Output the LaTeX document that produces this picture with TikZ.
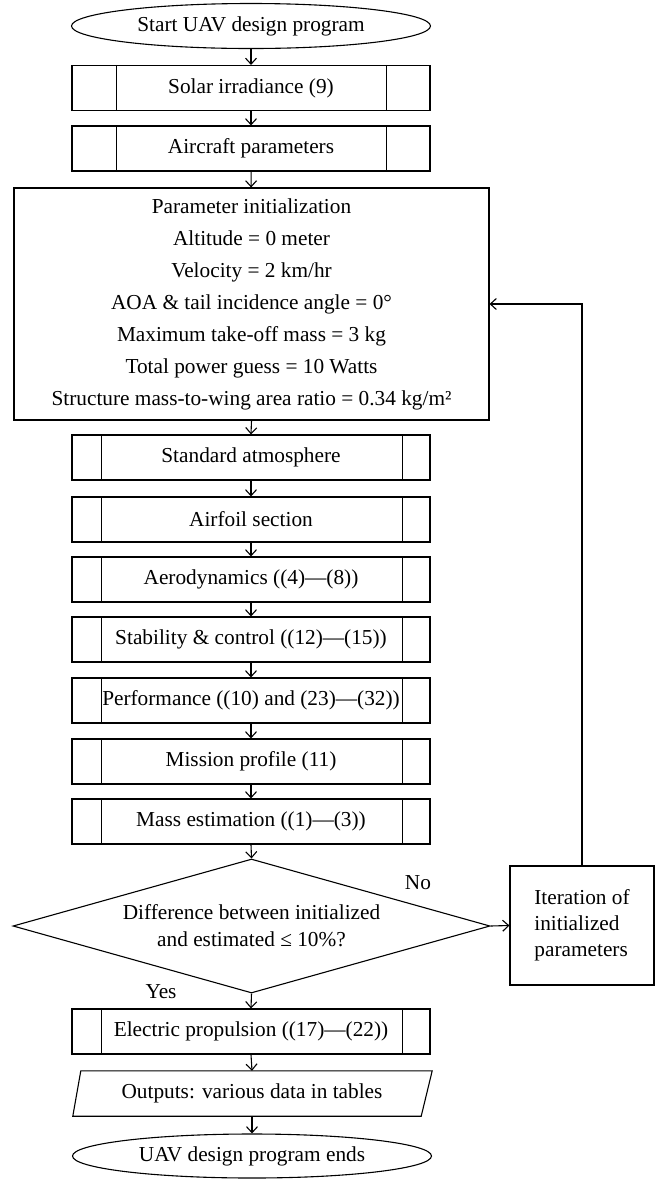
\documentclass[tikz,border=0pt]{standalone}
\usepackage{fontspec}
\setmainfont{Liberation Serif}
\usetikzlibrary{arrows.meta,shapes.geometric}
\begin{document}
\begin{tikzpicture}[x=1pt,y=-1pt,
  every node/.style={font=\fontsize{21.3}{26}\selectfont, inner sep=0pt},
  flowline/.style={line width=1.1pt, -{Straight Barb[length=6pt,width=11pt]}},
  plain/.style={line width=1.1pt},
  proc/.style={draw, line width=1.1pt, rectangle, minimum width=358pt, minimum height=45pt},
  term/.style={draw, ellipse, line width=1.1pt, minimum width=359pt, minimum height=45pt},
  decision/.style={draw, diamond, line width=1.1pt, shape aspect=3.56, minimum width=477pt, minimum height=134pt, align=center, font=\fontsize{21.3}{27}\selectfont},
  lbl/.style={font=\fontsize{21.3}{26}\selectfont}
]
\useasboundingbox (0,0) rectangle (663,1179);

\node[term] (start) at (251,26) {Start UAV design program};
\node[proc] (solar) at (251,88) {Solar irradiance (9)};
\node[proc] (aircraft) at (251,148.5) {Aircraft parameters};
\node[draw, line width=1.1pt, rectangle, minimum width=475pt, minimum height=232pt, align=center,
      font=\fontsize{21.3}{32}\selectfont] (param) at (251.5,304)
  {Parameter initialization\\
   Altitude = 0 meter\\
   Velocity = 2 km/hr\\
   AOA \& tail incidence angle = 0°\\
   Maximum take-off mass = 3 kg\\
   Total power guess = 10 Watts\\
   Structure mass-to-wing area ratio = 0.34 kg/m²};
\node[proc] (std) at (251,457.5) {Standard atmosphere};
\node[proc] (airfoil) at (251,519.5) {Airfoil section};
\node[proc] (aero) at (251,579.5) {Aerodynamics ((4)—(8))};
\node[proc] (stab) at (251,639.5) {Stability \& control ((12)—(15))};
\node[proc] (perf) at (251,700.5) {Performance ((10) and (23)—(32))};
\node[proc] (mission) at (251,761.5) {Mission profile (11)};
\node[proc] (mass) at (251,821.5) {Mass estimation ((1)—(3))};
\node[decision] (dec) at (251.5,926) {Difference between initialized\\and estimated ≤ 10\%?};
\node[draw, line width=1.1pt, rectangle, minimum width=144pt, minimum height=119pt, align=left] (iter) at (582,925.5)
  {Iteration of\\initialized\\parameters};
\node[proc] (elec) at (251,1031.5) {Electric propulsion ((17)—(22))};
\node[minimum width=358pt, minimum height=45pt] (out) at (252,1093.5) {Outputs: various data in tables};
\draw[plain] (out.south west) -- ([xshift=8pt]out.north west) -- ([xshift=1pt]out.north east) -- ([xshift=-10pt]out.south east) -- cycle;
\node[term, minimum height=44pt] (end) at (252,1156) {UAV design program ends};

\node[lbl] (no) at (418,883) {No};
\node[lbl] (yes) at (161,992) {Yes};

% inner lines of predefined-process boxes
\foreach \n in {solar,aircraft} {
  \draw[plain] ([xshift=45pt]\n.north west) -- ([xshift=45pt]\n.south west);
  \draw[plain] ([xshift=-44pt]\n.north east) -- ([xshift=-44pt]\n.south east);
}
\foreach \n in {std,airfoil,aero,stab,perf,mission,mass,elec} {
  \draw[plain] ([xshift=30pt]\n.north west) -- ([xshift=30pt]\n.south west);
  \draw[plain] ([xshift=-28pt]\n.north east) -- ([xshift=-28pt]\n.south east);
}

% connectors
\draw[flowline] (start) -- (solar);
\draw[flowline] (solar) -- (aircraft);
\draw[flowline] (aircraft) -- (param);
\draw[flowline] (param.south) -- (std.north);
\draw[flowline] (std) -- (airfoil);
\draw[flowline] (airfoil) -- (aero);
\draw[flowline] (aero) -- (stab);
\draw[flowline] (stab) -- (perf);
\draw[flowline] (perf) -- (mission);
\draw[flowline] (mission) -- (mass);
\draw[flowline] (mass.south) -- (dec.north);
\draw[flowline] (dec.east) -- (iter.west);
\draw[flowline] (iter.north) |- (param.east);
\draw[flowline] (dec.south) -- (elec.north);
\draw[flowline] (elec.south) -- (out.north);
\draw[flowline] (out.south) -- (end.north);
\end{tikzpicture}
\end{document}
